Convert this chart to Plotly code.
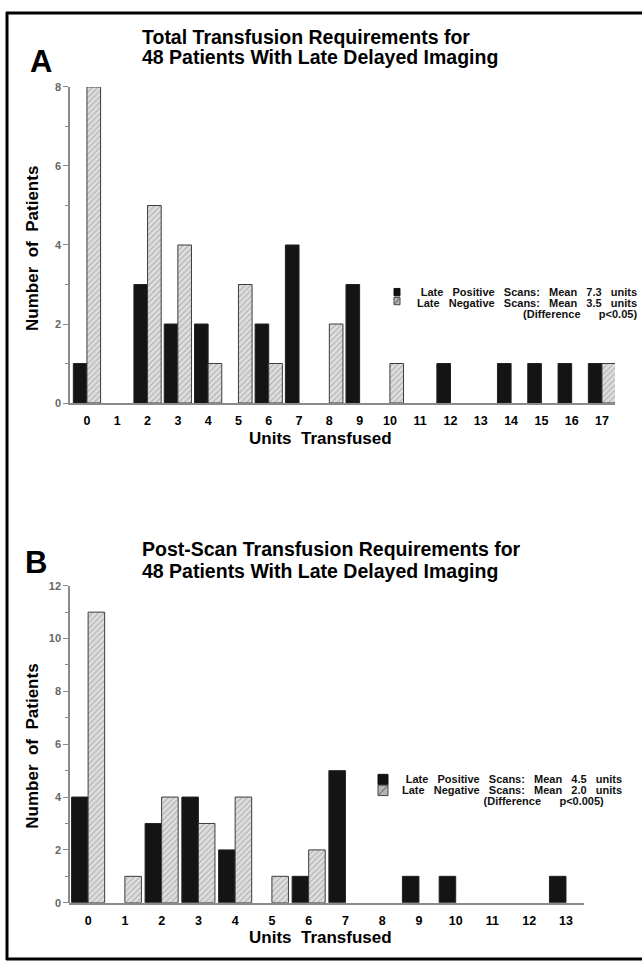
import plotly.graph_objects as go

# ---- data -------------------------------------------------------------
units_a = list(range(18))
pos_a = [1, 0, 3, 2, 2, 0, 2, 4, 0, 3, 0, 0, 1, 0, 1, 1, 1, 1]
neg_a = [8, 0, 5, 4, 1, 3, 1, 0, 2, 0, 1, 0, 0, 0, 0, 0, 0, 1]

units_b = list(range(14))
pos_b = [4, 0, 3, 4, 2, 0, 1, 5, 0, 1, 1, 0, 0, 1]
neg_b = [11, 1, 4, 3, 4, 1, 2, 0, 0, 0, 0, 0, 0, 0]

series_names = ["Late Positive Scans", "Late Negative Scans"]
means_a = [7.3, 3.5]
means_b = [4.5, 2.0]
pvals = ["p<0.05", "p<0.005"]

titles_a = ["Total Transfusion Requirements for", "48 Patients With Late Delayed Imaging"]
titles_b = ["Post-Scan Transfusion Requirements for", "48 Patients With Late Delayed Imaging"]
panel_letters = ["A", "B"]
x_title = "Units Transfused"
y_title = "Number of Patients"

yticks_a = [0, 2, 4, 6, 8]
yticks_b = [0, 2, 4, 6, 8, 10, 12]

# ---- figure geometry (pixels -> paper) ---------------------------------
W, H = 642, 967
FONT = "Liberation Sans, Arial, Helvetica, sans-serif"
NB = "\u00a0"


def px(x):
    return x / W


def py(y):
    return 1 - y / H


def gap(s, n=2):
    # wider word spacing, as in the typeset figure
    return s.replace(" ", NB * n)


def nz(vals):
    return [v if v else None for v in vals]


BLACK = dict(color="#141414", line=dict(color="#222222", width=1))
HATCH = dict(
    color="#dadada",
    pattern=dict(shape="/", fgcolor="#777777", bgcolor="#dedede", size=4, solidity=0.25),
    line=dict(color="#3c3c3c", width=1),
)

fig = go.Figure()
for units, pos, neg, xa, ya in [
    (units_a, pos_a, neg_a, "x", "y"),
    (units_b, pos_b, neg_b, "x2", "y2"),
]:
    fig.add_trace(go.Bar(x=units, y=nz(pos), name=series_names[0], marker=BLACK,
                         xaxis=xa, yaxis=ya, showlegend=False))
    fig.add_trace(go.Bar(x=units, y=nz(neg), name=series_names[1], marker=HATCH,
                         xaxis=xa, yaxis=ya, showlegend=False))

AX_GRAY = "#8a8a8a"
xtickfont = dict(family=FONT, size=12.5, color="#000000", weight="bold")
ytickfont = dict(family=FONT, size=11, color="#666666", weight="bold")


def yaxis_cfg(domain, rng, ticks):
    return dict(domain=domain, range=rng, tickvals=ticks, ticks="outside", ticklen=5,
                tickwidth=1.2, tickcolor=AX_GRAY, showline=True, linecolor=AX_GRAY,
                linewidth=1.5, showgrid=False, zeroline=False, tickfont=ytickfont,
                minor=dict(dtick=1, ticks="outside", ticklen=3, tickcolor=AX_GRAY),
                fixedrange=True)


def xaxis_cfg(domain, rng, cats, anchor):
    return dict(domain=domain, range=rng, tickvals=cats, ticktext=[str(c) for c in cats],
                ticks="", showline=True, linecolor=AX_GRAY, linewidth=2, showgrid=False,
                zeroline=False, tickfont=xtickfont, anchor=anchor, fixedrange=True,
                ticklabelstandoff=5)


fig.update_layout(
    width=W, height=H, autosize=False,
    margin=dict(l=0, r=0, t=0, b=0),
    paper_bgcolor="white", plot_bgcolor="white",
    barmode="group", bargap=0.1, bargroupgap=0,
    font=dict(family=FONT, color="#000000"),
    xaxis=xaxis_cfg([px(70), px(615)], [-0.56, 17.43], units_a, "y"),
    yaxis=yaxis_cfg([py(402), py(82)], [0, 8], yticks_a),
    xaxis2=xaxis_cfg([px(69), px(584)], [-0.52, 13.49], units_b, "y2"),
    yaxis2=yaxis_cfg([py(908), py(587)], [0, 12], yticks_b),
)

ann = []
shapes = []

# panel letters
for letter, (cx, cy) in zip(panel_letters, [(41, 56), (36, 563)]):
    ann.append(dict(text=letter, x=px(cx), y=py(cy), xref="paper", yref="paper",
                    showarrow=False, xanchor="center", yanchor="middle",
                    font=dict(family=FONT, size=31, weight="bold", color="#000")))

# panel titles
for lines, ys in [(titles_a, (31, 52)), (titles_b, (550, 572))]:
    for line, yy in zip(lines, ys):
        ann.append(dict(text=gap(line, 1), x=px(140), y=py(yy),
                        xref="paper", yref="paper", showarrow=False,
                        xanchor="left", yanchor="middle",
                        font=dict(family=FONT, size=19.5, weight="bold", color="#000")))

# axis titles
for xy, yy in [(438, 246), (943, 750)]:
    ann.append(dict(text=gap(x_title), x=px(320), y=py(xy), xref="paper", yref="paper",
                    showarrow=False, xanchor="center", yanchor="middle",
                    font=dict(family=FONT, size=17, weight="bold", color="#000")))
    ann.append(dict(text=gap(y_title), x=px(33), y=py(yy), xref="paper", yref="paper",
                    showarrow=False, xanchor="center", yanchor="middle", textangle=-90,
                    font=dict(family=FONT, size=17, weight="bold", color="#000")))

# keys: three tightly spaced lines in one block (small base size keeps the
# line pitch close, the spans carry the visible size)
KEY_PX = 11


def key_block(means, p, pad_last):
    lines = [gap(f"{name}: Mean {m:.1f} units", 3) for name, m in zip(series_names, means)]
    lines.append("(Difference" + NB * 6 + p + ")" + NB * pad_last)
    return "<br>".join(f'<span style="font-size:{KEY_PX}px">{t}</span>' for t in lines)


key_specs = [
    dict(means=means_a, p=pvals[0], right=639, cy=300.5, pad=0,
         sw=(394, 400, (286, 293.5), (295, 302.5))),
    dict(means=means_b, p=pvals[1], right=624, cy=794, pad=6,
         sw=(378, 388, (778, 788.5), (789, 799.5))),
]
for spec in key_specs:
    ann.append(dict(text=key_block(spec["means"], spec["p"], spec["pad"]),
                    x=px(spec["right"]), y=py(spec["cy"]), xref="paper", yref="paper",
                    showarrow=False, xanchor="right", yanchor="middle", align="right",
                    font=dict(family=FONT, size=8.3, weight="bold", color="#111")))
    x0, x1, (b0, b1), (h0, h1) = spec["sw"]
    shapes.append(dict(type="rect", xref="paper", yref="paper", x0=px(x0), x1=px(x1),
                       y0=py(b1), y1=py(b0), fillcolor="#111", line=dict(color="#111", width=1)))
    shapes.append(dict(type="rect", xref="paper", yref="paper", x0=px(x0), x1=px(x1),
                       y0=py(h1), y1=py(h0), fillcolor="#b5b5b5", line=dict(color="#444", width=1)))
    shapes.append(dict(type="line", xref="paper", yref="paper", x0=px(x0 + 1), x1=px(x1 - 1),
                       y0=py(h1 - 1), y1=py(h0 + 1), line=dict(color="#555", width=1)))

# page frame (top, left, bottom rules)
FR = dict(color="#000", width=3)
shapes.append(dict(type="line", xref="paper", yref="paper", x0=px(6), x1=1, y0=py(7), y1=py(7), line=FR))
shapes.append(dict(type="line", xref="paper", yref="paper", x0=px(7), x1=px(7), y0=py(6), y1=py(966), line=FR))
shapes.append(dict(type="line", xref="paper", yref="paper", x0=px(6), x1=1, y0=py(965), y1=py(965), line=FR))

fig.update_layout(annotations=ann, shapes=shapes)

fig.write_html("out.html", config=dict(displayModeBar=False))
